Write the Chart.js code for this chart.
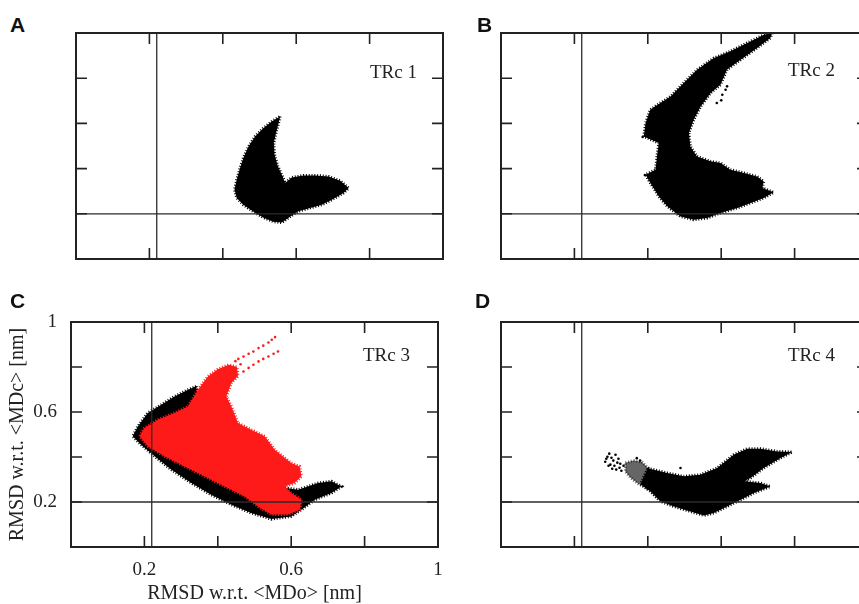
<!DOCTYPE html>
<html>
<head>
<meta charset="utf-8">
<title>RMSD TRc</title>
<script src="https://cdn.jsdelivr.net/npm/chart.js"></script>
<style>
  html, body { margin: 0; padding: 0; background: #fff; }
  #page { position: relative; width: 859px; height: 604px; overflow: hidden; }
  canvas { position: absolute; }
  .letter {
    position: absolute;
    font-family: "Liberation Sans", Arial, sans-serif;
    font-weight: bold;
    font-size: 21px;
    line-height: 1;
    color: #111;
  }
  .trc {
    position: absolute;
    font-family: "Liberation Serif", "Times New Roman", serif;
    font-size: 19px;
    line-height: 1;
    color: #222;
    white-space: nowrap;
  }
</style>
</head>
<body>
<div id="page">
  <canvas id="chartA" width="387" height="246" style="left:66px;top:23px"></canvas>
  <canvas id="chartB" width="387" height="246" style="left:491px;top:23px"></canvas>
  <canvas id="chartC" width="448" height="296" style="left:0px;top:310px"></canvas>
  <canvas id="chartD" width="387" height="245" style="left:491px;top:312px"></canvas>

  <div class="letter" style="left:10px;top:14px">A</div>
  <div class="letter" style="left:477px;top:14px">B</div>
  <div class="letter" style="left:10px;top:290px">C</div>
  <div class="letter" style="left:475px;top:290px">D</div>

  <div class="trc" style="left:370px;top:62px">TRc 1</div>
  <div class="trc" style="left:788px;top:60px">TRc 2</div>
  <div class="trc" style="left:363px;top:345px">TRc 3</div>
  <div class="trc" style="left:788px;top:345px">TRc 4</div>
</div>

<script>
// ---- data (RMSD in nm, x = w.r.t. <MDo>, y = w.r.t. <MDc>) ----
// reference lines
const refX = 0.22;
const refY = 0.2;
const tickValues = [0.2, 0.4, 0.6, 0.8];
const xLabelValues = [0.2, 0.6, 1];
const yLabelValues = [0.2, 0.6, 1];

// outline of the sampled region, TRc 1
const trc1Cloud = [[0.556,0.631],[0.552,0.602],[0.545,0.558],[0.539,0.513],[0.541,0.462],[0.550,0.410],[0.563,0.365],[0.570,0.336],[0.588,0.361],[0.620,0.370],[0.652,0.370],[0.688,0.365],[0.720,0.346],[0.743,0.314],[0.729,0.292],[0.697,0.262],[0.670,0.240],[0.638,0.226],[0.606,0.211],[0.584,0.188],[0.561,0.161],[0.538,0.165],[0.511,0.183],[0.484,0.209],[0.456,0.240],[0.438,0.270],[0.432,0.307],[0.438,0.351],[0.447,0.403],[0.456,0.447],[0.470,0.498],[0.488,0.542],[0.511,0.580],[0.534,0.609]];

// TRc 2
const trc2Cloud = [[0.739,1.0],[0.734,0.978],[0.698,0.934],[0.653,0.882],[0.616,0.838],[0.598,0.771],[0.571,0.735],[0.544,0.675],[0.525,0.616],[0.512,0.558],[0.516,0.498],[0.534,0.454],[0.571,0.432],[0.598,0.425],[0.625,0.395],[0.662,0.381],[0.698,0.365],[0.716,0.343],[0.712,0.314],[0.743,0.295],[0.716,0.270],[0.680,0.248],[0.644,0.226],[0.598,0.204],[0.562,0.181],[0.525,0.174],[0.489,0.188],[0.453,0.233],[0.430,0.277],[0.407,0.336],[0.394,0.373],[0.421,0.395],[0.425,0.454],[0.430,0.513],[0.389,0.542],[0.394,0.602],[0.407,0.661],[0.434,0.690],[0.462,0.719],[0.498,0.779],[0.535,0.838],[0.580,0.889],[0.625,0.919],[0.671,0.956],[0.716,0.992]];
const trc2Stray = [[0.612,0.749],[0.603,0.727],[0.616,0.764],[0.600,0.702],[0.588,0.690],[0.386,0.540],[0.392,0.372]];

// TRc 3 : black and red runs
const trc3Black = [[0.341,0.714],[0.346,0.669],[0.319,0.610],[0.328,0.521],[0.464,0.329],[0.555,0.269],[0.619,0.255],[0.673,0.284],[0.710,0.292],[0.737,0.269],[0.710,0.240],[0.664,0.210],[0.628,0.166],[0.600,0.136],[0.546,0.124],[0.491,0.151],[0.437,0.188],[0.382,0.232],[0.328,0.284],[0.273,0.344],[0.228,0.403],[0.191,0.455],[0.168,0.492],[0.182,0.536],[0.209,0.596],[0.246,0.632],[0.282,0.669],[0.319,0.699]];
const trc3Red = [[0.346,0.699],[0.373,0.758],[0.400,0.790],[0.430,0.810],[0.452,0.800],[0.455,0.760],[0.437,0.729],[0.423,0.669],[0.437,0.625],[0.455,0.551],[0.491,0.521],[0.528,0.492],[0.555,0.432],[0.600,0.373],[0.623,0.358],[0.628,0.314],[0.609,0.284],[0.582,0.269],[0.600,0.240],[0.628,0.210],[0.623,0.166],[0.591,0.144],[0.546,0.144],[0.510,0.180],[0.474,0.225],[0.419,0.269],[0.364,0.314],[0.310,0.358],[0.255,0.403],[0.210,0.447],[0.187,0.492],[0.200,0.529],[0.237,0.566],[0.282,0.596],[0.319,0.625]];
const trc3RedTails = [[0.456,0.836],[0.470,0.847],[0.484,0.859],[0.497,0.869],[0.511,0.884],[0.524,0.895],[0.538,0.909],[0.547,0.921],[0.556,0.933],[0.470,0.780],[0.484,0.796],[0.497,0.810],[0.511,0.825],[0.524,0.836],[0.538,0.847],[0.552,0.859],[0.564,0.869],[0.462,0.812],[0.448,0.826]];

// TRc 4 : dense part, half-dense part and the loose cluster on the left
const trc4Dense = [[0.400,0.350],[0.453,0.329],[0.498,0.314],[0.543,0.321],[0.589,0.351],[0.634,0.410],[0.671,0.437],[0.707,0.437],[0.753,0.425],[0.794,0.422],[0.762,0.396],[0.716,0.351],[0.680,0.307],[0.662,0.292],[0.707,0.284],[0.734,0.269],[0.689,0.240],[0.653,0.210],[0.616,0.180],[0.580,0.151],[0.553,0.140],[0.516,0.158],[0.471,0.180],[0.434,0.203],[0.407,0.247],[0.380,0.280]];
const trc4Half = [[0.339,0.375],[0.361,0.384],[0.383,0.379],[0.402,0.350],[0.394,0.264],[0.374,0.281],[0.353,0.308],[0.339,0.335]];
const trc4Loose = [[0.284,0.379],[0.290,0.401],[0.295,0.415],[0.301,0.397],[0.306,0.384],[0.298,0.366],[0.309,0.361],[0.317,0.375],[0.323,0.352],[0.328,0.339],[0.314,0.344],[0.303,0.348],[0.293,0.361],[0.287,0.392],[0.320,0.392],[0.325,0.370],[0.334,0.361],[0.312,0.410],[0.370,0.395],[0.379,0.384],[0.489,0.351]];

// ---- drawing ----
const TICK = 11;
const serif = '"Liberation Serif", "Times New Roman", serif';

const framePlugin = {
  id: 'frame',
  afterDatasetsDraw(chart) {
    const {ctx, chartArea: a} = chart;
    const x = chart.scales.x, y = chart.scales.y;
    ctx.save();
    ctx.strokeStyle = '#222';
    ctx.lineWidth = 1.6;
    ctx.beginPath();
    tickValues.forEach(v => {
      const px = x.getPixelForValue(v), py = y.getPixelForValue(v);
      ctx.moveTo(px, a.bottom); ctx.lineTo(px, a.bottom - TICK);
      ctx.moveTo(px, a.top); ctx.lineTo(px, a.top + TICK);
      ctx.moveTo(a.left, py); ctx.lineTo(a.left + TICK, py);
      ctx.moveTo(a.right, py); ctx.lineTo(a.right - TICK, py);
    });
    ctx.stroke();
    ctx.lineWidth = 2;
    ctx.strokeRect(a.left, a.top, a.right - a.left, a.bottom - a.top);
    ctx.restore();
  }
};

function pts(list) {
  return list.map(p => ({x: p[0], y: p[1]}));
}

function cloud(list, color, order) {
  return {
    type: 'line',
    data: pts(list.concat([list[0]])),
    fill: 'shape',
    backgroundColor: color,
    borderColor: color,
    borderWidth: 3,
    borderDash: [1, 1.8],
    pointRadius: 0,
    tension: 0,
    order: order
  };
}

function dots(list, color, order) {
  return {
    type: 'scatter',
    data: pts(list),
    backgroundColor: color,
    borderWidth: 0,
    pointRadius: 1.3,
    order: order
  };
}

function refLines() {
  const style = {type: 'line', borderColor: '#2b2b2b', borderWidth: 1.3, pointRadius: 0, fill: false, order: 0};
  return [
    Object.assign({data: pts([[refX, 0], [refX, 1]])}, style),
    Object.assign({data: pts([[0, refY], [1, refY]])}, style)
  ];
}

function hiddenScales() {
  return {
    x: {type: 'linear', min: 0, max: 1, display: false},
    y: {type: 'linear', min: 0, max: 1, display: false}
  };
}

function makeChart(id, datasets, scales, padding) {
  new Chart(document.getElementById(id), {
    type: 'scatter',
    data: {datasets: refLines().concat(datasets)},
    options: {
      responsive: false,
      animation: false,
      layout: {padding: padding},
      plugins: {legend: {display: false}, tooltip: {enabled: false}},
      scales: scales
    },
    plugins: [framePlugin]
  });
}

// A
makeChart('chartA', [cloud(trc1Cloud, '#000', 5)], hiddenScales(), 10);

// B
makeChart('chartB', [dots(trc2Stray, '#000', 4), cloud(trc2Cloud, '#000', 5)], hiddenScales(), 10);

// C (with axes)
makeChart('chartC', [
  dots(trc3RedTails, '#ff1a1a', 1),
  cloud(trc3Red, '#ff1a1a', 2),
  cloud(trc3Black, '#000', 5)
], {
  x: {
    type: 'linear', min: 0, max: 1,
    grid: {display: false, drawTicks: false},
    border: {display: false},
    afterBuildTicks: s => { s.ticks = xLabelValues.map(v => ({value: v})); },
    afterFit: s => { s.height = 59; s.paddingLeft = 0; s.paddingRight = 0; },
    ticks: {color: '#222', padding: 12, font: {family: serif, size: 19}, callback: v => String(v)},
    title: {display: true, text: 'RMSD w.r.t. <MDo> [nm]', color: '#222', padding: 0,
            font: {family: serif, size: 20}}
  },
  y: {
    type: 'linear', min: 0, max: 1,
    grid: {display: false, drawTicks: false},
    border: {display: false},
    afterBuildTicks: s => { s.ticks = yLabelValues.map(v => ({value: v})); },
    afterFit: s => { s.width = 71; s.paddingTop = 0; s.paddingBottom = 0; },
    ticks: {color: '#222', padding: 14, font: {family: serif, size: 19}, callback: v => String(v)},
    title: {display: true, text: 'RMSD w.r.t. <MDc> [nm]', color: '#222', padding: {top: 6, bottom: 0},
            font: {family: serif, size: 20}}
  }
}, {top: 12, right: 10, left: 0, bottom: 0});

// D
makeChart('chartD', [
  dots(trc4Loose, '#000', 3),
  cloud(trc4Half, 'rgba(0,0,0,0.6)', 4),
  cloud(trc4Dense, '#000', 5)
], hiddenScales(), 10);
</script>
</body>
</html>
